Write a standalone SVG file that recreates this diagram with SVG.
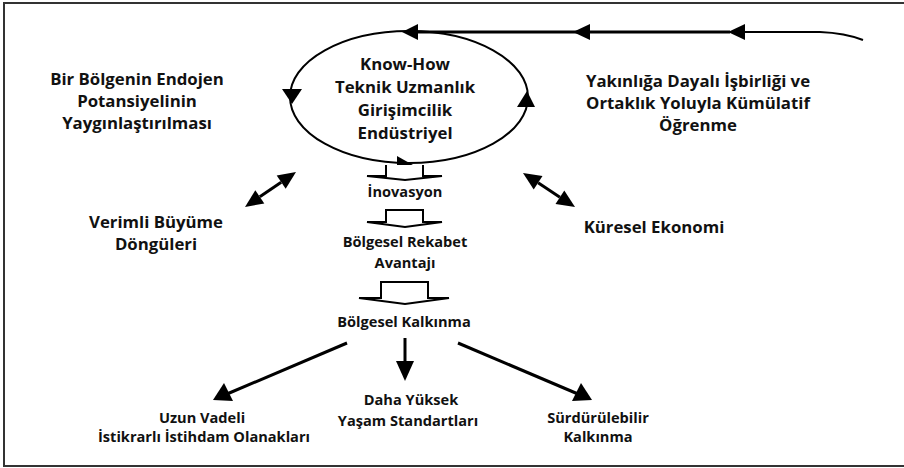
<svg xmlns="http://www.w3.org/2000/svg" width="904" height="468" viewBox="0 0 904 468">
<defs>
<style>
text{font-family:"Open Sans","Liberation Sans",sans-serif;font-weight:700;fill:#111;text-anchor:middle}
.l{font-size:16.8px}
.m{font-size:14.6px}
.s{font-size:14.6px}
.hd{fill:#000;stroke:none}
.blk{fill:#fff;stroke:#000;stroke-width:2;stroke-linejoin:miter}
.ln{stroke:#000;stroke-width:3;fill:none}
</style>
</defs>
<rect x="0" y="0" width="904" height="468" fill="#fff"/>
<rect x="4" y="3" width="910" height="463" fill="none" stroke="#333" stroke-width="2"/>

<g id="core">
<ellipse cx="409" cy="97" rx="119" ry="66" fill="none" stroke="#000" stroke-width="2"/>
<text class="l" x="405" y="70">Know-How</text>
<text class="l" x="405" y="93">Teknik Uzmanlık</text>
<text class="l" x="405" y="116">Girişimcilik</text>
<text class="l" x="405" y="139">Endüstriyel</text>
</g>

<g id="endojen">
<text class="l" x="137" y="85">Bir Bölgenin Endojen</text>
<text class="l" x="137" y="107">Potansiyelinin</text>
<text class="l" x="137" y="129">Yaygınlaştırılması</text>
</g>

<g id="ogrenme">
<text class="l" x="698" y="87">Yakınlığa Dayalı İşbirliği ve</text>
<text class="l" x="698" y="109">Ortaklık Yoluyla Kümülatif</text>
<text class="l" x="698" y="131">Öğrenme</text>
</g>

<g id="verimli">
<text class="l" x="156" y="228">Verimli Büyüme</text>
<text class="l" x="156" y="250">Döngüleri</text>
</g>

<g id="kuresel">
<text class="l" x="654" y="233">Küresel Ekonomi</text>
</g>

<g id="inovasyon">
<text class="m" x="405" y="197">İnovasyon</text>
</g>

<g id="rekabet">
<text class="m" x="405" y="247">Bölgesel Rekabet</text>
<text class="m" x="405" y="268">Avantajı</text>
</g>

<g id="kalkinma">
<text class="m" x="404" y="327">Bölgesel Kalkınma</text>
</g>

<g id="istihdam">
<text class="s" x="202" y="423">Uzun Vadeli</text>
<text class="s" x="204" y="442">İstikrarlı İstihdam Olanakları</text>
</g>

<g id="yasam">
<text class="s" x="411" y="405">Daha Yüksek</text>
<text class="s" x="408" y="426">Yaşam Standartları</text>
</g>

<g id="surdurulebilir">
<text class="s" x="598" y="423">Sürdürülebilir</text>
<text class="s" x="598" y="442">Kalkınma</text>
</g>

<g id="connectors">
<path d="M409,32 L730,32" fill="none" stroke="#000" stroke-width="3"/>
<path d="M730,32 L820,32 Q845,33 863,40" fill="none" stroke="#000" stroke-width="2"/>
<polygon class="hd" points="573,32 590,24 590,40"/>
<polygon class="hd" points="728,32 745,24 745,40"/>
<polygon class="hd" points="402,32 418,24 418,40"/>
<polygon class="hd" points="282,89 302,89 292,104"/>
<polygon class="hd" points="527,91 517,107 535,107"/>
<polygon class="hd" points="413,165 397,156 397,174"/>
<path class="blk" d="M386,165 L386,176 L367,176 L405,180 L442,176 L423,176 L423,165"/>
<path class="blk" d="M386,210 L386,222 L367,222 L405,227 L442,222 L423,222 L423,210 Z"/>
<path class="blk" d="M381,282 L381,298 L359,298 L405,304 L449,298 L428,298 L428,282 Z"/>
<line class="ln" x1="259.8" y1="196.8" x2="281.2" y2="182.2"/>
<polygon class="hd" points="296,172 285.7,188.8 276.7,175.6"/>
<polygon class="hd" points="245,207 264.3,203.4 255.3,190.2"/>
<line class="ln" x1="538.1" y1="182.8" x2="559.9" y2="197.2"/>
<polygon class="hd" points="523,173 533.7,189.5 542.5,176.1"/>
<polygon class="hd" points="575,207 555.5,203.9 564.3,190.5"/>
<line class="ln" x1="347" y1="343" x2="227" y2="394"/>
<polygon class="hd" points="213,400 224,383 233,401"/>
<line class="ln" x1="405" y1="338" x2="405" y2="364"/>
<polygon class="hd" points="405,381 396,361 414,361"/>
<line class="ln" x1="458" y1="343" x2="578" y2="394"/>
<polygon class="hd" points="592,400 572,401 581,383"/>
</g>
</svg>
